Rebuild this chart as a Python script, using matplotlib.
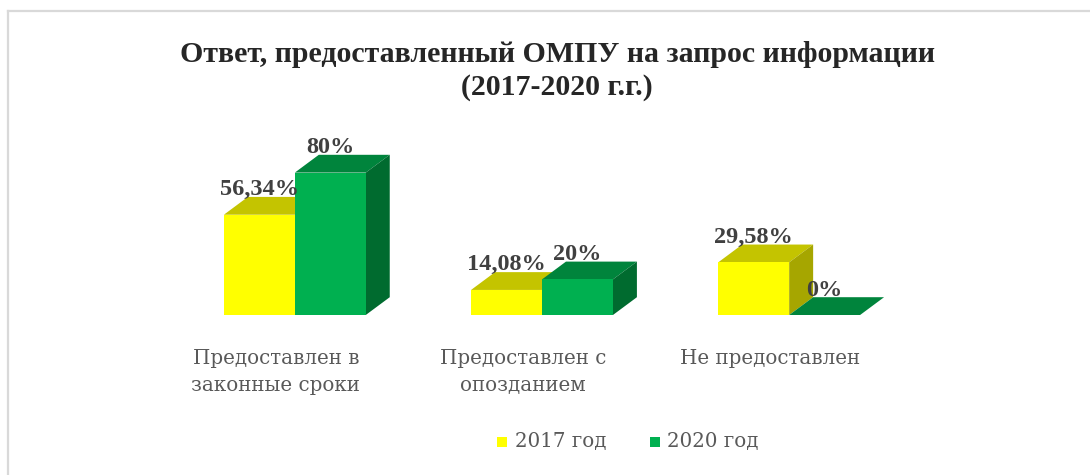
import matplotlib.pyplot as plt
from matplotlib.patches import Polygon
import numpy as np

plt.rcParams['font.family'] = ['Liberation Serif', 'DejaVu Serif']

categories = ['Предоставлен в\nзаконные сроки', 'Предоставлен с\nопозданием', 'Не предоставлен']
series_names = ['2017 год', '2020 год']
vals_2017 = [56.34, 14.08, 29.58]
vals_2020 = [80, 20, 0]
labels_2017 = ['56,34%', '14,08%', '29,58%']
labels_2020 = ['80%', '20%', '0%']

# front, top, side colours per series
col_2017 = ('#FFFF00', '#C4C400', '#A6A600')
col_2020 = ('#00B050', '#00843C', '#006B2F')

W, H = 1090, 475
fig = plt.figure(figsize=(W / 100, H / 100), dpi=100)

# light grey frame around the chart area
fig.add_artist(plt.Line2D([8 / W, 8 / W], [0, 1 - 11 / H], color='#D9D9D9', lw=1.6))
fig.add_artist(plt.Line2D([8 / W, 1], [1 - 11 / H, 1 - 11 / H], color='#D9D9D9', lw=1.6))

ax = fig.add_axes([171.25 / W, (H - 315) / H, 741.5 / W, 178 / H])
ax.set_xlim(-0.5, 2.5)
ax.set_ylim(0, 100)
ax.axis('off')

bw = 0.287
dx, dy = 0.097, 10.0  # fake depth


def bar3d(x0, v, cols):
    front, top, side = cols
    ax.bar(x0, v, width=bw, align='edge', color=front, lw=0, zorder=2)
    ax.add_patch(Polygon([(x0, v), (x0 + bw, v), (x0 + bw + dx, v + dy), (x0 + dx, v + dy)],
                         closed=True, fc=top, lw=0, zorder=1))
    ax.add_patch(Polygon([(x0 + bw, 0), (x0 + bw + dx, dy), (x0 + bw + dx, v + dy), (x0 + bw, v)],
                         closed=True, fc=side, lw=0, zorder=1))


label_font = 'DejaVu Serif'
x = np.arange(len(categories))
for i in range(len(categories)):
    bar3d(x[i] - bw, vals_2017[i], col_2017)
    bar3d(x[i], vals_2020[i], col_2020)
    ax.annotate(labels_2017[i], (x[i] - bw / 2, vals_2017[i]), xytext=(0, 25),
                textcoords='offset pixels', ha='center', va='center',
                fontsize=17.5, fontweight='bold', color='#404040', zorder=5)
    ax.annotate(labels_2020[i], (x[i] + bw / 2, vals_2020[i]), xytext=(0, 25),
                textcoords='offset pixels', ha='center', va='center',
                fontsize=17.5, fontweight='bold', color='#404040', zorder=5)
    ax.annotate(categories[i], (x[i], 0), xytext=(-19, -34), textcoords='offset pixels',
                ha='center', va='top', fontsize=14.3, color='#595959', family=label_font,
                linespacing=1.55, annotation_clip=False)

fig.text(557 / W, 1 - 71 / H, 'Ответ, предоставленный ОМПУ на запрос информации\n(2017-2020 г.г.)',
         ha='center', va='center', fontsize=21.5, fontweight='bold', color='#262626',
         linespacing=1.3)

# legend
fig.add_artist(plt.Rectangle((497 / W, 1 - 447 / H), 10 / W, 10 / H, fc='#FFFF00', lw=0))
fig.text(515 / W, 1 - 442 / H, series_names[0], ha='left', va='center', fontsize=14.3,
         color='#595959', family=label_font)
fig.add_artist(plt.Rectangle((650 / W, 1 - 447 / H), 10 / W, 10 / H, fc='#00B050', lw=0))
fig.text(667 / W, 1 - 442 / H, series_names[1], ha='left', va='center', fontsize=14.3,
         color='#595959', family=label_font)

fig.savefig('out.png', dpi=100)
